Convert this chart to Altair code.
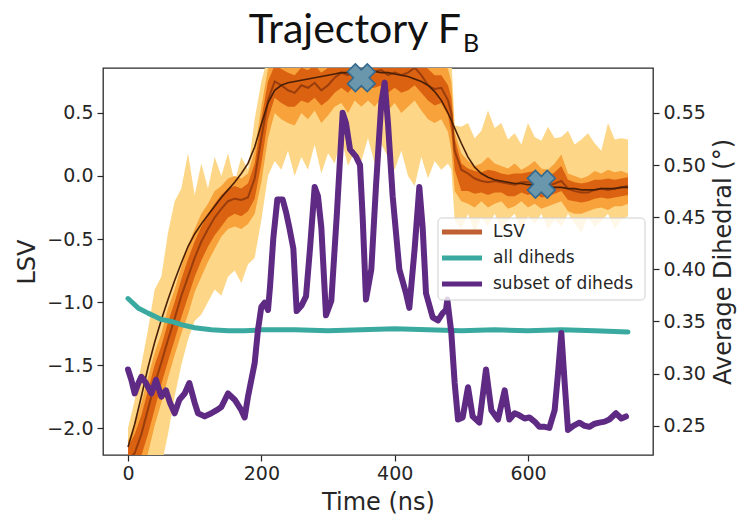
import altair as alt
import pandas as pd

# ---------------- data ----------------
t_lsv = list(range(0, 481, 10)) + [485] + list(range(490, 751, 10))

yellow_lo = [-2.4, -2.4, -2.4, -2.4, -2.4, -2.3, -2.05, -1.75, -1.5, -1.3,
             -1.15, -1.1, -1.0, -0.9, -0.95, -0.8, -0.75, -0.85, -0.7, -0.65,
             -0.35, 0.0, 0.12, 0.05, 0.2, 0.0, 0.15, 0.05, 0.25, 0.02,
             0.18, 0.1, 0.3, 0.08, 0.2, 0.12, 0.3, 0.1, 0.25, 0.15,
             0.05, 0.2, 0.0, -0.08, 0.15, -0.02, 0.12, 0.05, 0.1,
             0.05,
             -0.35, -0.42, -0.3, -0.45, -0.33, -0.4, -0.3, -0.42, -0.35, -0.3,
             -0.44, -0.32, -0.38, -0.3, -0.42, -0.35, -0.4, -0.3, -0.38, -0.45,
             -0.33, -0.4, -0.36, -0.3, -0.42, -0.35, -0.32]
yellow_hi = [-2.0, -1.78, -1.5, -1.22, -0.9, -0.8, -0.45, -0.2, -0.1, 0.18,
             -0.15, 0.1, -0.1, 0.15, 0.0, 0.18, -0.05, 0.15, 0.05, 0.45,
             0.75, 0.95, 0.95, 0.95, 0.95, 0.95, 0.95, 0.95, 0.95, 0.95,
             0.95, 0.95, 0.95, 0.95, 0.95, 0.95, 0.95, 0.95, 0.95, 0.95,
             0.95, 0.95, 0.95, 0.95, 0.95, 0.95, 0.95, 0.95, 0.95,
             0.95,
             0.4, 0.39, 0.42, 0.3, 0.36, 0.52, 0.38, 0.42, 0.29, 0.34,
             0.25, 0.42, 0.31, 0.28, 0.39, 0.3, 0.31, 0.36, 0.25, 0.29,
             0.34, 0.26, 0.2, 0.42, 0.29, 0.3, 0.29]
orange_lo = [-2.4, -2.4, -2.35, -2.2, -1.98, -1.8, -1.6, -1.42, -1.25, -1.1,
             -0.92, -0.8, -0.68, -0.58, -0.48, -0.42, -0.4, -0.42, -0.38, -0.3,
             -0.05, 0.3, 0.5, 0.45, 0.42, 0.4, 0.5, 0.45, 0.52, 0.42,
             0.48, 0.55, 0.58, 0.5, 0.6, 0.55, 0.6, 0.55, 0.62, 0.52,
             0.58, 0.5, 0.55, 0.6, 0.52, 0.45, 0.42, 0.45, 0.35,
             0.2,
             -0.12, -0.2, -0.22, -0.25, -0.2, -0.25, -0.22, -0.2, -0.26, -0.24,
             -0.2, -0.25, -0.22, -0.26, -0.24, -0.22, -0.2, -0.28, -0.3, -0.3,
             -0.28, -0.26, -0.25, -0.27, -0.24, -0.24, -0.22]
orange_hi = [-2.1, -1.98, -1.8, -1.6, -1.4, -1.25, -1.05, -0.9, -0.72, -0.55,
             -0.42, -0.3, -0.22, -0.12, -0.08, -0.02, 0.0, -0.02, 0.02, 0.2,
             0.55, 0.85, 0.95, 0.95, 0.95, 0.95, 0.95, 0.95, 0.95, 0.95,
             0.95, 0.95, 0.95, 0.95, 0.95, 0.95, 0.95, 0.95, 0.95, 0.95,
             0.95, 0.95, 0.95, 0.95, 0.95, 0.95, 0.92, 0.9, 0.85,
             0.75,
             0.35, 0.18, 0.12, 0.08, 0.1, 0.15, 0.1, 0.08, 0.06, 0.1,
             0.05, 0.08, 0.12, 0.06, 0.05, 0.1, 0.17, 0.02, 0.0, -0.02,
             0.0, 0.04, 0.02, 0.05, 0.03, 0.04, 0.02]
dark_lo = [-2.4, -2.35, -2.22, -2.05, -1.85, -1.65, -1.47, -1.3, -1.12, -0.96,
           -0.8, -0.67, -0.56, -0.47, -0.4, -0.33, -0.3, -0.32, -0.28, -0.18,
           0.1, 0.45, 0.62, 0.58, 0.55, 0.55, 0.6, 0.58, 0.62, 0.56,
           0.6, 0.66, 0.7, 0.66, 0.72, 0.7, 0.7, 0.7, 0.72, 0.66,
           0.7, 0.66, 0.68, 0.72, 0.66, 0.6, 0.56, 0.58, 0.48,
           0.35,
           0.05, -0.12, -0.12, -0.14, -0.13, -0.15, -0.13, -0.13, -0.16, -0.16,
           -0.13, -0.15, -0.13, -0.17, -0.16, -0.14, -0.12, -0.19, -0.2, -0.21,
           -0.2, -0.18, -0.17, -0.18, -0.17, -0.16, -0.15]
dark_hi = [-2.15, -2.05, -1.9, -1.7, -1.5, -1.35, -1.16, -1.0, -0.82, -0.66,
           -0.52, -0.4, -0.3, -0.22, -0.15, -0.1, -0.08, -0.1, -0.06, 0.1,
           0.45, 0.75, 0.88, 0.85, 0.82, 0.8, 0.86, 0.84, 0.88, 0.82,
           0.86, 0.9, 0.95, 0.92, 0.95, 0.95, 0.95, 0.95, 0.95, 0.92,
           0.95, 0.92, 0.95, 0.95, 0.92, 0.85, 0.8, 0.8, 0.72,
           0.62,
           0.3, 0.1, 0.06, 0.04, 0.03, 0.05, 0.04, 0.02, 0.01, 0.02,
           0.02, 0.03, 0.04, 0.0, -0.01, 0.03, 0.08, -0.03, -0.05, -0.06,
           -0.05, -0.03, -0.03, -0.02, -0.03, -0.02, -0.01]
lsv_mid = [-2.25, -2.2, -2.05, -1.85, -1.65, -1.48, -1.3, -1.13, -0.95, -0.8,
           -0.65, -0.52, -0.42, -0.33, -0.26, -0.2, -0.18, -0.19, -0.17, -0.02,
           0.3, 0.6, 0.75, 0.72, 0.68, 0.66, 0.72, 0.7, 0.74, 0.68,
           0.72, 0.78, 0.82, 0.8, 0.83, 0.84, 0.82, 0.83, 0.84, 0.8,
           0.82, 0.8, 0.82, 0.86, 0.8, 0.72, 0.69, 0.7, 0.6,
           0.5,
           0.2, 0.05, 0.02, -0.02, -0.04, -0.05, -0.04, -0.05, -0.06, -0.07,
           -0.05, -0.05, -0.06, -0.07, -0.08, -0.06, -0.04, -0.1, -0.12, -0.13,
           -0.13, -0.11, -0.1, -0.11, -0.1, -0.09, -0.08]
lsv_smooth = [-2.15, -1.97, -1.75, -1.52, -1.32, -1.14, -0.98, -0.83, -0.69, -0.56,
              -0.46, -0.38, -0.31, -0.24, -0.17, -0.11, -0.05, 0.02, 0.1, 0.23,
              0.41, 0.58, 0.68, 0.72, 0.74, 0.75, 0.76, 0.77, 0.78, 0.79,
              0.8, 0.81, 0.82, 0.82, 0.83, 0.83, 0.83, 0.83, 0.82, 0.82,
              0.81, 0.8, 0.79, 0.77, 0.75, 0.72, 0.67, 0.6, 0.5,
              0.44,
              0.38, 0.26, 0.15, 0.07, 0.02, -0.01, -0.03, -0.04, -0.05, -0.06,
              -0.06, -0.07, -0.07, -0.08, -0.08, -0.09, -0.09, -0.1, -0.1, -0.11,
              -0.11, -0.11, -0.1, -0.1, -0.1, -0.09, -0.09]

marker_t = [350, 620]
marker_lsv = [0.78, -0.065]

teal_t = [0, 15, 30, 40, 50, 65, 80, 100, 125, 150, 175, 200, 250, 300, 350,
          400, 450, 500, 550, 600, 650, 700, 750]
teal_d = [0.372, 0.363, 0.358, 0.355, 0.352, 0.350, 0.347, 0.344, 0.342, 0.341,
          0.341, 0.342, 0.342, 0.341, 0.342, 0.343, 0.342, 0.341, 0.342, 0.341,
          0.342, 0.341, 0.340]

purple_t = [0, 5, 10, 15, 20, 27, 35, 42, 50, 57, 63, 70, 77, 85, 92, 100, 105,
            115, 125, 133, 140, 150, 160, 170, 175, 180, 185, 190, 195, 200, 205,
            210, 213, 218, 224, 232, 237, 242, 248, 253, 260, 267, 273, 280, 285,
            290, 297, 305, 313, 322, 327, 333, 342, 348, 352, 357, 365, 372, 380,
            385, 390, 397, 407, 417, 422, 430, 437, 442, 447, 457, 465, 472, 477,
            479, 485, 490, 495, 502, 510, 517, 527, 537, 545, 555, 565, 572, 580,
            587, 595, 602, 610, 617, 625, 632, 640, 645, 650, 655, 660, 668, 677,
            685, 692, 700, 707, 715, 722, 732, 740, 747]
purple_d = [0.304, 0.294, 0.281, 0.290, 0.297, 0.291, 0.281, 0.294, 0.278, 0.284,
            0.272, 0.262, 0.275, 0.281, 0.291, 0.272, 0.262, 0.259, 0.262, 0.265,
            0.268, 0.281, 0.275, 0.265, 0.258, 0.278, 0.294, 0.310, 0.342, 0.364,
            0.368, 0.361, 0.383, 0.430, 0.467, 0.467, 0.455, 0.440, 0.420, 0.360,
            0.365, 0.374, 0.420, 0.479, 0.470, 0.440, 0.356, 0.370, 0.450, 0.550,
            0.540, 0.515, 0.508, 0.500, 0.450, 0.371, 0.400, 0.480, 0.560, 0.579,
            0.540, 0.470, 0.400, 0.377, 0.363, 0.420, 0.479, 0.440, 0.377, 0.354,
            0.351, 0.358, 0.361, 0.371, 0.339, 0.291, 0.256, 0.258, 0.287, 0.259,
            0.253, 0.304, 0.265, 0.256, 0.284, 0.256, 0.262, 0.260, 0.257, 0.258,
            0.254, 0.249, 0.249, 0.248, 0.265, 0.300, 0.339, 0.291, 0.246, 0.250,
            0.253, 0.250, 0.249, 0.252, 0.253, 0.254, 0.256, 0.262, 0.257, 0.259]

legend_labels = ["LSV", "all diheds", "subset of diheds"]
legend_colors = ["#bf5f33", "#3aa99f", "#5f2a83"]

# ---------------- build ----------------
df_lsv = pd.DataFrame({"t": t_lsv, "ylo": yellow_lo, "yhi": yellow_hi,
                       "olo": orange_lo, "ohi": orange_hi, "dlo": dark_lo, "dhi": dark_hi,
                       "mid": lsv_mid, "smooth": lsv_smooth})
df_mark = pd.DataFrame({"t": marker_t, "v": marker_lsv})
df_teal = pd.DataFrame({"t": teal_t, "d": teal_d})
df_purple = pd.DataFrame({"t": purple_t, "d": purple_d})
one = pd.DataFrame({"a": [0]})

FONT = "DejaVu Sans"
W, H = 550, 387

x_scale = alt.Scale(domain=[-37.5, 787.5], nice=False, zero=False)
x_axis = alt.Axis(values=[0, 200, 400, 600], format="d", title="Time (ns)",
                  titleY=54, titleBaseline="alphabetic", labelPadding=3)
x_enc = alt.X("t:Q", scale=x_scale, axis=x_axis)

lsv_scale = alt.Scale(domain=[-2.214, 0.857], nice=False, zero=False)
lsv_axis = alt.Axis(orient="left", values=[-2.0, -1.5, -1.0, -0.5, 0.0, 0.5], format=".1f",
                    title="LSV", titleAngle=270, titleX=-76, titleY=H / 2,
                    titleAlign="center", titleBaseline="middle", labelPadding=4)
dih_scale = alt.Scale(domain=[0.222, 0.593], nice=False, zero=False)
dih_axis = alt.Axis(orient="right", values=[0.25, 0.30, 0.35, 0.40, 0.45, 0.50, 0.55],
                    format=".2f", title="Average Dihedral (°)", titleAngle=270,
                    titleX=70, titleY=H / 2, titleAlign="center", titleBaseline="middle",
                    labelPadding=4)


def band(lo, hi, color):
    return alt.Chart(df_lsv).mark_area(color=color, clip=True, opacity=1,
                                       interpolate="linear").encode(
        x=x_enc, y=alt.Y(f"{hi}:Q", scale=lsv_scale, axis=lsv_axis), y2=f"{lo}:Q")


yellow = band("ylo", "yhi", "#fdd787")
orange = band("olo", "ohi", "#f7a23a")
dark = band("dlo", "dhi", "#da6211")
mid_line = alt.Chart(df_lsv).mark_line(color="#9a3d0c", strokeWidth=2, clip=True).encode(
    x=x_enc, y=alt.Y("mid:Q", scale=lsv_scale, axis=lsv_axis))
smooth_line = alt.Chart(df_lsv).mark_line(color="#4a1f07", strokeWidth=1.6, clip=True).encode(
    x=x_enc, y=alt.Y("smooth:Q", scale=lsv_scale, axis=lsv_axis))
markers = alt.Chart(df_mark).mark_point(shape="cross", angle=45, filled=True, size=780,
                                        fill="#6b97ad", stroke="#336a90", strokeWidth=1.6,
                                        opacity=1).encode(
    x=x_enc, y=alt.Y("v:Q", scale=lsv_scale, axis=lsv_axis))

lsv_layer = alt.layer(yellow, orange, dark, mid_line, smooth_line, markers)

teal = alt.Chart(df_teal).mark_line(color="#3aa99f", strokeWidth=5, strokeJoin="round",
                                    strokeCap="round").encode(
    x=x_enc, y=alt.Y("d:Q", scale=dih_scale, axis=dih_axis))
purple = alt.Chart(df_purple).mark_line(color="#5f2a83", strokeWidth=6, strokeJoin="round",
                                        strokeCap="round").encode(
    x=x_enc, y=alt.Y("d:Q", scale=dih_scale, axis=dih_axis))
dih_layer = alt.layer(teal, purple)

# legend (drawn as decoration, positioned in pixels inside the plot)
LX0, LX1, LY0, LY1 = 335, 542, 150, 232
legend_parts = [alt.Chart(one).mark_rect(fill="white", fillOpacity=0.8, stroke="#cfcfcf",
                                         strokeWidth=1, cornerRadius=4).encode(
    x=alt.value(LX0), x2=alt.value(LX1), y=alt.value(LY0), y2=alt.value(LY1))]
for i, (lab, col) in enumerate(zip(legend_labels, legend_colors)):
    yy = 164 + 26 * i
    legend_parts.append(alt.Chart(one).mark_rule(color=col, strokeWidth=5).encode(
        x=alt.value(339), x2=alt.value(379), y=alt.value(yy)))
    legend_parts.append(alt.Chart(one).mark_text(text=lab, font=FONT, fontSize=17,
                                                 color="#262626", align="left",
                                                 baseline="middle").encode(
        x=alt.value(390), y=alt.value(yy)))

title_main = alt.Chart(one).mark_text(text="Trajectory F", font="Lato", fontSize=41,
                                      color="#111111", align="right",
                                      baseline="alphabetic").encode(
    x=alt.value(358), y=alt.value(-25))
title_sub = alt.Chart(one).mark_text(text="B", font="Lato", fontSize=25, color="#111111",
                                     align="left", baseline="alphabetic").encode(
    x=alt.value(360), y=alt.value(-16))

deco = alt.layer(*legend_parts, title_main, title_sub)

chart = alt.layer(lsv_layer, dih_layer, deco).resolve_scale(y="independent").properties(
    width=W, height=H,
    padding={"left": 103, "top": 68, "right": 86, "bottom": 61},
    autosize=alt.AutoSizeParams(type="none"),
    background="white",
).configure_view(stroke="#2b2b2b", strokeWidth=1.3).configure_axis(
    labelFont=FONT, titleFont=FONT, labelFontSize=19, titleFontSize=24,
    titleFontWeight="normal", labelColor="#262626", titleColor="#262626",
    tickColor="#262626", tickSize=6, tickWidth=1.2, grid=False, domain=False,
    labelFlush=False, labelOverlap=False)

chart.save("out.html", embed_options={"renderer": "svg", "actions": False})
